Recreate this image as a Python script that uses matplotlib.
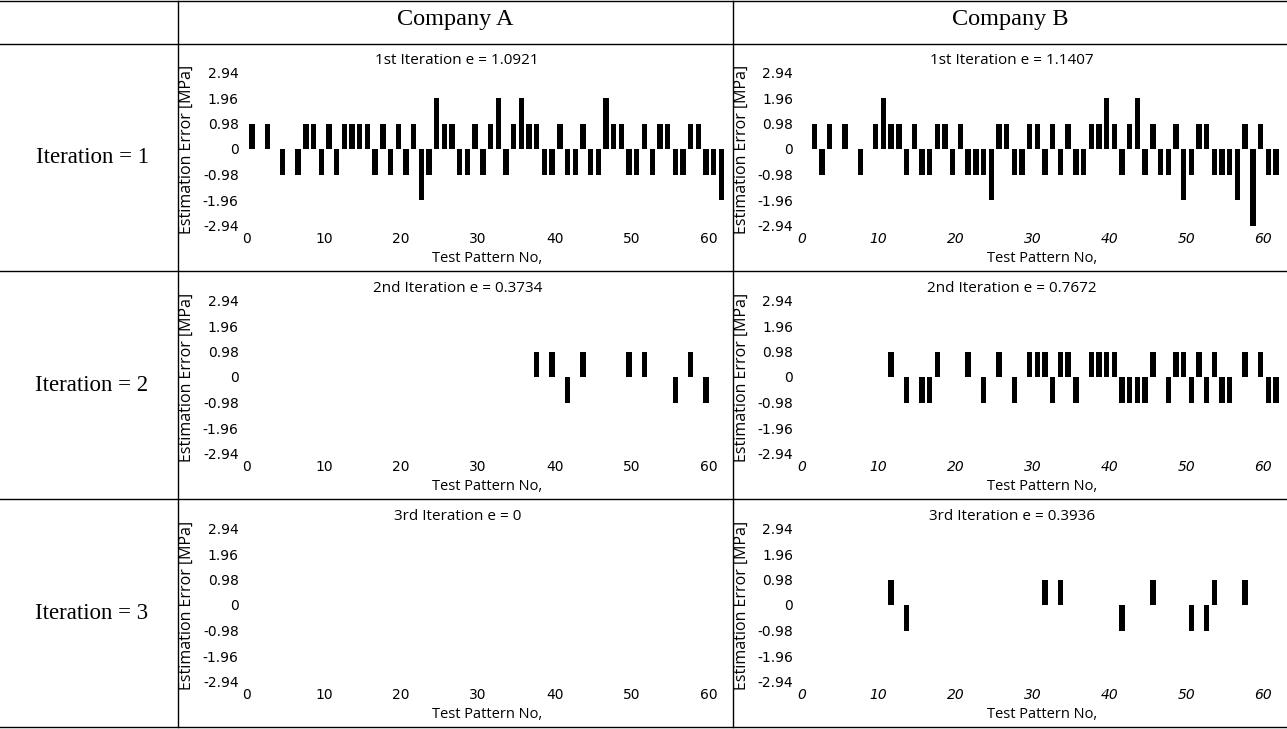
import matplotlib
matplotlib.use("Agg")
import matplotlib.pyplot as plt
from matplotlib.lines import Line2D

W, H = 1287, 729

# values, in MPa
pattern_no = list(range(1, 63))

a_iter1 = [0.98, 0, 0.98, 0, -0.98, 0, -0.98, 0.98, 0.98, -0.98,
           0.98, -0.98, 0.98, 0.98, 0.98, 0.98, -0.98, 0.98, -0.98, 0.98,
           -0.98, 0.98, -1.96, -0.98, 1.96, 0.98, 0.98, -0.98, -0.98, 0.98,
           -0.98, 0.98, 1.96, -0.98, 0.98, 1.96, 0.98, 0.98, -0.98, -0.98,
           0.98, -0.98, -0.98, 0.98, -0.98, -0.98, 1.96, 0.98, 0.98, -0.98,
           -0.98, 0.98, -0.98, 0.98, 0.98, -0.98, -0.98, 0.98, 0.98, -0.98,
           -0.98, -1.96]

b_iter1 = [0, 0.98, -0.98, 0.98, 0, 0.98, 0, -0.98, 0, 0.98,
           1.96, 0.98, 0.98, -0.98, 0.98, -0.98, -0.98, 0.98, 0.98, -0.98,
           0.98, -0.98, -0.98, -0.98, -1.96, 0.98, 0.98, -0.98, -0.98, 0.98,
           0.98, -0.98, 0.98, -0.98, 0.98, -0.98, -0.98, 0.98, 0.98, 1.96,
           0.98, -0.98, 0.98, 1.96, -0.98, 0.98, -0.98, -0.98, 0.98, -1.96,
           -0.98, 0.98, 0.98, -0.98, -0.98, -0.98, -1.96, 0.98, -2.94, 0.98,
           -0.98, -0.98]

a2_no = [38, 40, 42, 44, 50, 52, 56, 58, 60]
a2_err = [0.98, 0.98, -0.98, 0.98, 0.98, 0.98, -0.98, 0.98, -0.98]

b2_no = [12, 14, 16, 17, 18, 22, 24, 26, 28, 30, 31, 32, 33, 34, 35, 36, 38, 39, 40,
         41, 42, 43, 44, 45, 46, 48, 49, 50, 51, 52, 53, 54, 55, 56, 58, 60, 61, 62]
b2_err = [0.98, -0.98, -0.98, -0.98, 0.98, 0.98, -0.98, 0.98, -0.98, 0.98, 0.98, 0.98,
          -0.98, 0.98, 0.98, -0.98, 0.98, 0.98, 0.98, 0.98, -0.98, -0.98, -0.98, -0.98,
          0.98, -0.98, 0.98, 0.98, -0.98, 0.98, -0.98, 0.98, -0.98, -0.98, 0.98, 0.98,
          -0.98, -0.98]

a3_no = []
a3_err = []

b3_no = [12, 14, 32, 34, 42, 46, 51, 53, 54, 58]
b3_err = [0.98, -0.98, 0.98, 0.98, -0.98, 0.98, -0.98, -0.98, 0.98, 0.98]

titles_a = ["1st Iteration e = 1.0921", "2nd Iteration e = 0.3734", "3rd Iteration e = 0"]
titles_b = ["1st Iteration e = 1.1407", "2nd Iteration e = 0.7672", "3rd Iteration e = 0.3936"]
row_labels = ["Iteration = 1", "Iteration = 2", "Iteration = 3"]
col_labels = ["Company A", "Company B"]

y_ticks = [2.94, 1.96, 0.98, 0, -0.98, -1.96, -2.94]
y_ticklabels = ["2.94", "1.96", "0.98", "0", "-0.98", "-1.96", "-2.94"]
x_ticks = [0, 10, 20, 30, 40, 50, 60]

data_a = [(pattern_no, a_iter1), (a2_no, a2_err), (a3_no, a3_err)]
data_b = [(pattern_no, b_iter1), (b2_no, b2_err), (b3_no, b3_err)]

fig = plt.figure(figsize=(W / 100, H / 100), dpi=100)
fig.patch.set_facecolor("white")

sans = ["Open Sans", "DejaVu Sans"]
serif = ["Liberation Serif", "DejaVu Serif"]


def add_px_axes(left, top, width, height):
    return fig.add_axes([left / W, 1 - (top + height) / H, width / W, height / H])


def draw_panel(ax, xs, ys, title, italic):
    # zero errors are not drawn
    pts = [(x, y) for x, y in zip(xs, ys) if y != 0]
    if pts:
        ax.bar([p[0] for p in pts], [p[1] for p in pts], width=-0.7, align="edge",
               color="black", linewidth=0)
    ax.set_xlim(0, 62.5)
    ax.set_ylim(-2.94, 2.94)
    for s in ax.spines.values():
        s.set_visible(False)
    ax.set_yticks(y_ticks)
    ax.set_yticklabels(y_ticklabels, fontsize=10, family="DejaVu Sans")
    ax.set_xticks(x_ticks)
    ax.set_xticklabels([str(t) for t in x_ticks], fontsize=10, family="DejaVu Sans",
                       style="italic" if italic else "normal")
    ax.tick_params(axis="both", length=0)
    ax.tick_params(axis="y", pad=6)
    ax.tick_params(axis="x", pad=5)
    ax.set_title(title, fontsize=11, family=sans, pad=6, x=0.437)
    ax.set_ylabel("Estimation Error [MPa]", fontsize=11.5, family=sans)
    ax.yaxis.set_label_coords(-0.108, 0.5)
    ax.set_xlabel("Test Pattern No,", fontsize=10.5, family=sans)
    ax.xaxis.set_label_coords(0.5, -0.165)
    ax.patch.set_alpha(0)


row_pitch = 228
for r in range(3):
    top = 72.5 + r * row_pitch
    ax_a = add_px_axes(247, top, 481, 153)
    draw_panel(ax_a, data_a[r][0], data_a[r][1], titles_a[r], False)
    ax_b = add_px_axes(801.5, top, 481, 153)
    draw_panel(ax_b, data_b[r][0], data_b[r][1], titles_b[r], True)
    fig.text(92 / W, 1 - (157.5 + r * row_pitch) / H, row_labels[r], fontsize=16.5,
             family=serif, ha="center", va="center")

fig.text(455.5 / W, 1 - 20 / H, col_labels[0], fontsize=17.5, family=serif, ha="center", va="center")
fig.text(1010 / W, 1 - 20 / H, col_labels[1], fontsize=17.5, family=serif, ha="center", va="center")

# table grid lines
for y in [1, 44, 271, 499, 727]:
    fig.add_artist(Line2D([0, 1], [1 - y / H, 1 - y / H], transform=fig.transFigure,
                          color="black", lw=1))
for x in [178, 733]:
    fig.add_artist(Line2D([x / W, x / W], [1 - 1 / H, 1 - 727 / H], transform=fig.transFigure,
                          color="black", lw=1))

fig.savefig("out.png", dpi=100)
